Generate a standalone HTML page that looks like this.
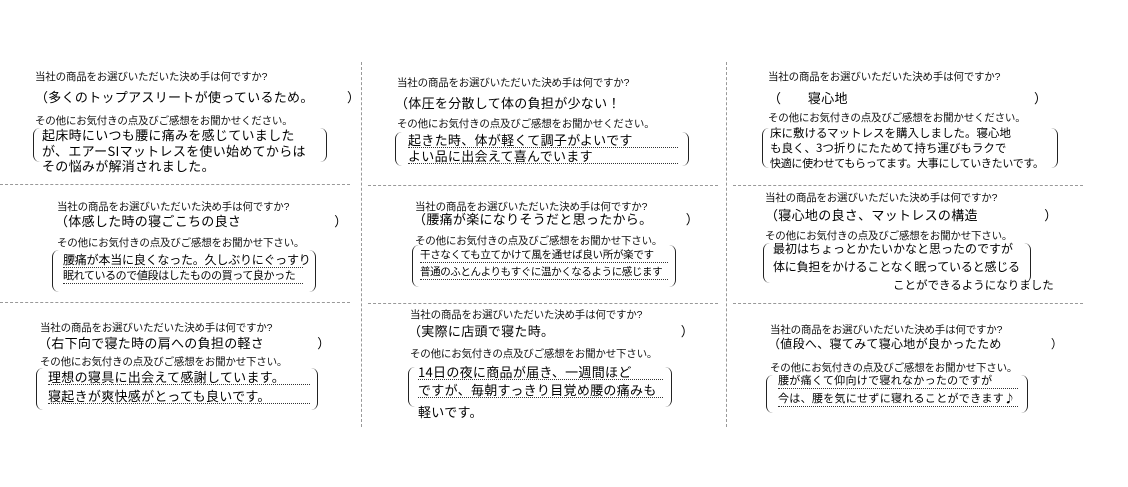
<!DOCTYPE html>
<html><head><meta charset="utf-8"><style>
body{margin:0;width:1128px;height:487px;background:#fff;position:relative;overflow:hidden;font-family:"Liberation Sans","Noto Sans CJK JP",sans-serif;color:#111}
.q{position:absolute;font-size:10.5px;white-space:nowrap;letter-spacing:-0.2px}
.h{position:absolute;font-size:13px;white-space:nowrap;font-family:"Noto Sans CJK JP",sans-serif;font-weight:400;color:#000;letter-spacing:0.3px}
.l{border-bottom:1px dotted #333;line-height:15px}
.b{position:absolute;border-left:1.2px solid #222;border-right:1.2px solid #222;border-radius:7px}
.hd{position:absolute;height:0;border-top:1px dashed #999}
.vd{position:absolute;width:0;border-left:1px dashed #999}
</style></head><body>
<div class="hd" style="left:0;top:184px;width:350px"></div>
<div class="hd" style="left:0;top:302px;width:350px"></div>
<div class="hd" style="left:368px;top:185px;width:350px"></div>
<div class="hd" style="left:368px;top:303px;width:350px"></div>
<div class="hd" style="left:733px;top:185px;width:350px"></div>
<div class="hd" style="left:733px;top:303px;width:350px"></div>
<div class="vd" style="left:361px;top:62px;height:365px"></div>
<div class="vd" style="left:726px;top:62px;height:365px"></div>

<!-- card1 -->
<div class="q" style="left:35px;top:69px">当社の商品をお選びいただいた決め手は何ですか?</div>
<div class="h" style="left:35px;top:87px">（多くのトップアスリートが使っているため。　　　）</div>
<div class="q" style="left:35px;top:113px">その他にお気付きの点及びご感想をお聞かせください。</div>
<div class="b" style="left:33px;top:128px;width:292px;height:34px"></div>
<div class="h" style="left:42px;top:125px">起床時にいつも腰に痛みを感じていました</div>
<div class="h" style="left:42px;top:141px">が、エアーSIマットレスを使い始めてからは</div>
<div class="h" style="left:42px;top:156px">その悩みが解消されました。</div>

<!-- card2 -->
<div class="q" style="left:397px;top:75px">当社の商品をお選びいただいた決め手は何ですか?</div>
<div class="h" style="left:395px;top:93px">（体圧を分散して体の負担が少ない！</div>
<div class="q" style="left:397px;top:116px">その他にお気付きの点及びご感想をお聞かせください。</div>
<div class="b" style="left:395px;top:132px;width:292px;height:34px"></div>
<div class="h l" style="left:408px;top:132px;width:270px">起きた時、体が軽くて調子がよいです</div>
<div class="h l" style="left:408px;top:148px;width:270px">よい品に出会えて喜んでいます</div>

<!-- card3 -->
<div class="q" style="left:768px;top:69px">当社の商品をお選びいただいた決め手は何ですか?</div>
<div class="h" style="left:768px;top:88px">（　　寝心地　　　　　　　　　　　　　　）</div>
<div class="q" style="left:768px;top:110px">その他にお気付きの点及びご感想をお聞かせください。</div>
<div class="b" style="left:762px;top:128px;width:294px;height:40px"></div>
<div class="h" style="left:770px;top:125px;font-size:11.5px;letter-spacing:0">床に敷けるマットレスを購入しました。寝心地</div>
<div class="h" style="left:770px;top:140px;font-size:11.5px;letter-spacing:0">も良く、3つ折りにたためて持ち運びもラクで</div>
<div class="h" style="left:770px;top:155px;font-size:11px;letter-spacing:-0.3px">快適に使わせてもらってます。大事にしていきたいです。</div>

<!-- card4 -->
<div class="q" style="left:57px;top:199px">当社の商品をお選びいただいた決め手は何ですか?</div>
<div class="h" style="left:55px;top:211px">（体感した時の寝ごこちの良さ　　　　　　　）</div>
<div class="q" style="left:57px;top:235px">その他にお気付きの点及びご感想をお聞かせ下さい。</div>
<div class="b" style="left:52px;top:250px;width:262px;height:42px"></div>
<div class="h l" style="left:63px;top:252px;width:240px;font-size:12px;letter-spacing:-0.2px">腰痛が本当に良くなった。久しぶりにぐっすり</div>
<div class="h l" style="left:63px;top:268px;width:240px;font-size:11px;letter-spacing:-0.4px">眠れているので値段はしたものの買って良かった</div>

<!-- card5 -->
<div class="q" style="left:415px;top:199px">当社の商品をお選びいただいた決め手は何ですか?</div>
<div class="h" style="left:413px;top:209px">（腰痛が楽になりそうだと思ったから。　　　）</div>
<div class="q" style="left:415px;top:233px">その他にお気付きの点及びご感想をお聞かせ下さい。</div>
<div class="b" style="left:412px;top:245px;width:262px;height:42px"></div>
<div class="h l" style="left:420px;top:247px;width:248px;font-size:10.5px;letter-spacing:-0.3px">干さなくても立てかけて風を通せば良い所が楽です</div>
<div class="h l" style="left:420px;top:264px;width:248px;font-size:10.5px;letter-spacing:-0.4px">普通のふとんよりもすぐに温かくなるように感じます</div>

<!-- card6 -->
<div class="q" style="left:765px;top:190px">当社の商品をお選びいただいた決め手は何ですか?</div>
<div class="h" style="left:765px;top:205px">（寝心地の良さ、マットレスの構造　　　　　）</div>
<div class="q" style="left:765px;top:228px">その他にお気付きの点及びご感想をお聞かせ下さい。</div>
<div class="b" style="left:763px;top:243px;width:266px;height:40px"></div>
<div class="h" style="left:773px;top:240px;font-size:12px;letter-spacing:0">最初はちょっとかたいかなと思ったのですが</div>
<div class="h" style="left:773px;top:258px;font-size:12px;letter-spacing:-0.2px">体に負担をかけることなく眠っていると感じる</div>
<div class="h" style="left:893px;top:277px;font-size:11.5px;letter-spacing:0">ことができるようになりました</div>

<!-- card7 -->
<div class="q" style="left:40px;top:320px">当社の商品をお選びいただいた決め手は何ですか?</div>
<div class="h" style="left:38px;top:333px">（右下向で寝た時の肩への負担の軽さ　　　　）</div>
<div class="q" style="left:40px;top:354px">その他にお気付きの点及びご感想をお聞かせ下さい。</div>
<div class="b" style="left:36px;top:368px;width:280px;height:42px"></div>
<div class="h l" style="left:48px;top:369px;width:262px">理想の寝具に出会えて感謝しています。</div>
<div class="h l" style="left:48px;top:388px;width:262px">寝起きが爽快感がとっても良いです。</div>

<!-- card8 -->
<div class="q" style="left:410px;top:307px">当社の商品をお選びいただいた決め手は何ですか?</div>
<div class="h" style="left:408px;top:321px">（実際に店頭で寝た時。　　　　　　　　　　）</div>
<div class="q" style="left:410px;top:346px">その他にお気付きの点及びご感想をお聞かせ下さい。</div>
<div class="b" style="left:408px;top:367px;width:262px;height:40px"></div>
<div class="h l" style="left:418px;top:364px;width:245px">14日の夜に商品が届き、一週間ほど</div>
<div class="h l" style="left:418px;top:382px;width:245px">ですが、毎朝すっきり目覚め腰の痛みも</div>
<div class="h" style="left:418px;top:402px">軽いです。</div>

<!-- card9 -->
<div class="q" style="left:770px;top:322px">当社の商品をお選びいただいた決め手は何ですか?</div>
<div class="h" style="left:768px;top:335px;font-size:12px">（値段へ、寝てみて寝心地が良かったため　　　　）</div>
<div class="q" style="left:770px;top:360px">その他にお気付きの点及びご感想をお聞かせ下さい。</div>
<div class="b" style="left:766px;top:375px;width:260px;height:38px"></div>
<div class="h l" style="left:778px;top:373px;width:240px;font-size:11px">腰が痛くて仰向けで寝れなかったのですが</div>
<div class="h l" style="left:778px;top:391px;width:240px;font-size:11px">今は、腰を気にせずに寝れることができます♪</div>
</body></html>
